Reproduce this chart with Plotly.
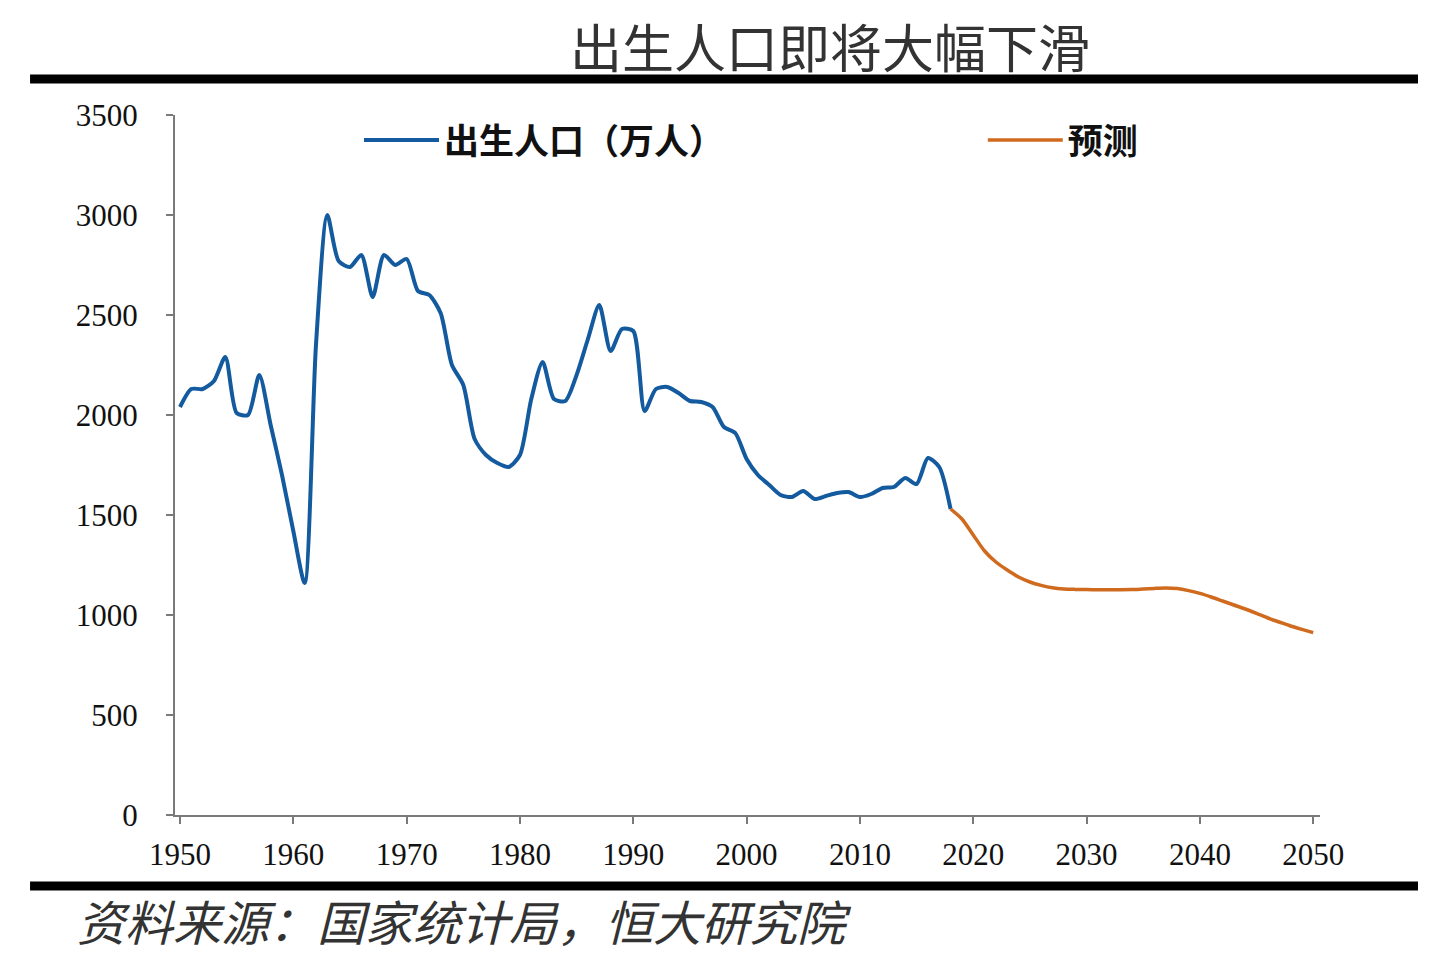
import plotly.graph_objects as go

# 出生人口（万人），1950-2018
years_hist = list(range(1950, 2019))
births_hist = [
    2040, 2130, 2130, 2170, 2290, 2010, 2000, 2200, 1950, 1700,
    1420, 1160, 2350, 3000, 2770, 2740, 2800, 2590, 2800, 2750,
    2780, 2620, 2600, 2510, 2250, 2150, 1880, 1800, 1760, 1740,
    1800, 2080, 2265, 2080, 2070, 2200, 2380, 2550, 2320, 2430,
    2420, 2020, 2130, 2140, 2110, 2070, 2065, 2040, 1940, 1910,
    1780, 1700, 1650, 1600, 1590, 1620, 1580, 1595, 1610, 1615,
    1590, 1605, 1635, 1640, 1685, 1655, 1785, 1740, 1530,
]

# 预测，2018-2050
years_fc = list(range(2018, 2051))
births_fc = [
    1530, 1480, 1400, 1320, 1265, 1225, 1190, 1165, 1148, 1136,
    1130, 1128, 1127, 1126, 1126, 1126, 1127, 1130, 1133, 1135,
    1132, 1122, 1108, 1090, 1070, 1050, 1030, 1008, 985, 965,
    945, 928, 912,
]

x_ticks = list(range(1950, 2051, 10))
y_ticks = list(range(0, 3501, 500))

blue = '#135a9e'
orange = '#cf6a1e'
axis_col = '#7a7a7a'
legend_font = dict(family='Noto Sans CJK SC', size=35, color='#111111', weight='bold')

fig = go.Figure()
fig.add_trace(go.Scatter(
    x=years_hist, y=births_hist, mode='lines', name='出生人口（万人）',
    line=dict(color=blue, width=4, shape='spline', smoothing=0.7),
    legend='legend',
))
fig.add_trace(go.Scatter(
    x=years_fc, y=births_fc, mode='lines', name='预测',
    line=dict(color=orange, width=3.5, shape='spline', smoothing=0.7),
    legend='legend2',
))

# the page body has an 8px margin, so the figure is 8px smaller and shifted
# plot area on screen: x 175..1320, y 115..815
fig.update_layout(
    width=1432, height=950, autosize=False,
    margin=dict(l=167, r=120, t=107, b=143),
    paper_bgcolor='white', plot_bgcolor='white',
    showlegend=True,
    legend=dict(
        x=0.1607, y=0.964, xanchor='left', yanchor='middle', itemwidth=75,
        font=legend_font, bgcolor='rgba(0,0,0,0)',
    ),
    legend2=dict(
        x=0.7055, y=0.964, xanchor='left', yanchor='middle', itemwidth=75,
        font=legend_font, bgcolor='rgba(0,0,0,0)',
    ),
    xaxis=dict(
        range=[1949.56, 2050.6], tickvals=x_ticks, ticktext=[str(v) for v in x_ticks],
        showgrid=False, zeroline=False, showline=True, linecolor=axis_col, linewidth=2,
        ticks='outside', ticklen=7, tickwidth=2, tickcolor=axis_col,
        ticklabelstandoff=4,
        tickfont=dict(family='Liberation Serif', size=31, color='#111111'),
    ),
    yaxis=dict(
        range=[0, 3500], tickvals=y_ticks, ticktext=[str(v) for v in y_ticks],
        showgrid=False, zeroline=False, showline=True, linecolor=axis_col, linewidth=2,
        ticks='outside', ticklen=7, tickwidth=2, tickcolor=axis_col,
        ticklabelstandoff=22,
        tickfont=dict(family='Liberation Serif', size=31, color='#111111'),
    ),
)

# heavy rules above and below the chart
for yy in [1.0514, -0.1014]:
    fig.add_shape(type='line', xref='paper', yref='paper',
                  x0=-0.1266, x1=1.0856, y0=yy, y1=yy,
                  line=dict(color='black', width=9))

fig.add_annotation(
    text='出生人口即将大幅下滑', xref='paper', yref='paper',
    x=0.572, y=1.0986, xanchor='center', yanchor='middle', showarrow=False,
    font=dict(family='Noto Sans CJK SC', size=52, color='#333333'),
)
fig.add_annotation(
    text='<i>资料来源：国家统计局，恒大研究院</i>', xref='paper', yref='paper',
    x=-0.0873, y=-0.15, xanchor='left', yanchor='middle', showarrow=False,
    font=dict(family='Noto Sans CJK SC', size=48, color='#333333'),
)

fig.write_html("out.html")
